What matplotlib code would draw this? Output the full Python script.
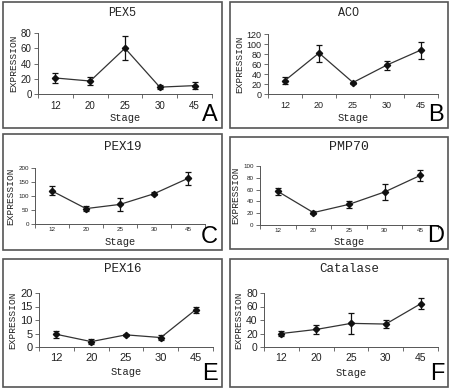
import matplotlib
matplotlib.use("Agg")
import matplotlib.pyplot as plt
from matplotlib.patches import Rectangle
import numpy as np

stages = ["12", "20", "25", "30", "45"]

pex5 = [21, 17, 60, 9, 11]
pex5_err = [6, 5, 16, 3, 5]
aco = [27, 82, 23, 58, 88]
aco_err = [7, 17, 2, 9, 17]
pex19 = [118, 55, 70, 108, 163]
pex19_err = [16, 10, 22, 5, 24]
pmp70 = [57, 21, 35, 56, 84]
pmp70_err = [6, 2, 6, 13, 10]
pex16 = [4.7, 2.0, 4.5, 3.5, 13.8]
pex16_err = [1.3, 1.0, 0.5, 1.0, 1.2]
catalase = [20, 26, 35, 34, 64]
catalase_err = [3, 6, 15, 6, 8]

W, H = 450, 389

def box(x0, y0, x1, y1):
    return [x0 / W, 1 - y1 / H, (x1 - x0) / W, (y1 - y0) / H]

# title, values, errors, ymax, ystep, letter, frame px, axes px,
# tick size, x tick pad, title y, title size, stage y
panels = [
    ("PEX5", pex5, pex5_err, 80, 20, "A", (3, 2, 222, 128), (38, 33, 212, 94), 7, 5, 13, 8.5, 118),
    ("ACO", aco, aco_err, 120, 20, "B", (230, 2, 448, 128), (268, 34, 438, 94), 6.5, 5, 13, 8.5, 118),
    ("PEX19", pex19, pex19_err, 200, 50, "C", (3, 134, 222, 250), (35, 168, 205, 224), 4.5, 2.5, 147, 9, 242),
    ("PMP70", pmp70, pmp70_err, 100, 20, "D", (230, 137, 448, 249), (260, 166, 438, 225), 4.5, 2, 147, 9.5, 242),
    ("PEX16", pex16, pex16_err, 20, 5, "E", (3, 259, 222, 387), (39, 293, 213, 347), 8, 4.5, 269, 9, 372),
    ("Catalase", catalase, catalase_err, 80, 20, "F", (230, 259, 448, 387), (264, 293, 438, 347), 7.5, 4.5, 269, 9, 373),
]

fig = plt.figure(figsize=(W / 100, H / 100), dpi=100)

mono = "Liberation Mono"
sans = "Liberation Sans"

for (title, vals, errs, ymax, ystep, letter, frame, axpx,
     fs, xpad, ty, tfs, sy) in panels:
    fx0, fy0, fx1, fy1 = frame
    fig.patches.append(Rectangle((fx0 / W, 1 - fy1 / H), (fx1 - fx0) / W, (fy1 - fy0) / H,
                                 transform=fig.transFigure, fill=False,
                                 edgecolor="#555555", linewidth=1.2))
    ax = fig.add_axes(box(*axpx))
    x = np.arange(len(stages))
    ax.errorbar(x, vals, yerr=errs, color="#333333", linewidth=0.9,
                ecolor="#111111", elinewidth=0.9, capsize=2.5, capthick=0.9,
                marker="D", markersize=3.2, markerfacecolor="#111111",
                markeredgecolor="#111111")
    ax.set_xlim(-0.5, len(stages) - 0.5)
    ax.set_ylim(0, ymax)
    ax.set_yticks(np.arange(0, ymax + 0.01, ystep))
    ax.set_xticks(np.arange(-0.5, len(stages), 1.0))
    ax.set_xticklabels([])
    ax.set_xticks(x, minor=True)
    ax.set_xticklabels(stages, minor=True)
    ax.tick_params(axis="x", which="minor", length=0, labelsize=fs, pad=xpad)
    ax.tick_params(axis="x", which="major", length=3, width=0.6, color="#555555")
    ax.tick_params(axis="y", length=3, width=0.6, color="#555555", labelsize=fs, pad=1.5)
    for lab in ax.get_xticklabels(minor=True) + ax.get_yticklabels():
        lab.set_fontfamily(sans)
        lab.set_color("#222222")
    for s in ["top", "right"]:
        ax.spines[s].set_visible(False)
    for s in ["left", "bottom"]:
        ax.spines[s].set_color("#555555")
        ax.spines[s].set_linewidth(0.7)
    ax.set_ylabel("EXPRESSION", fontfamily=mono, fontsize=6.8, labelpad=2,
                  color="#222222")
    cx = (fx0 + fx1) / 2 + 10
    fig.text(cx / W, 1 - ty / H, title, fontfamily=mono, fontsize=tfs,
             ha="center", va="center", color="#222222")
    fig.text(((axpx[0] + axpx[2]) / 2) / W, 1 - sy / H, "Stage",
             fontfamily=mono, fontsize=7.5, ha="center", va="center", color="#222222")
    fig.text((fx1 - 4) / W, 1 - (fy1 - 2) / H, letter, fontfamily=sans,
             fontsize=17, ha="right", va="bottom", color="black")

fig.savefig("out.png", dpi=100, facecolor="white")
